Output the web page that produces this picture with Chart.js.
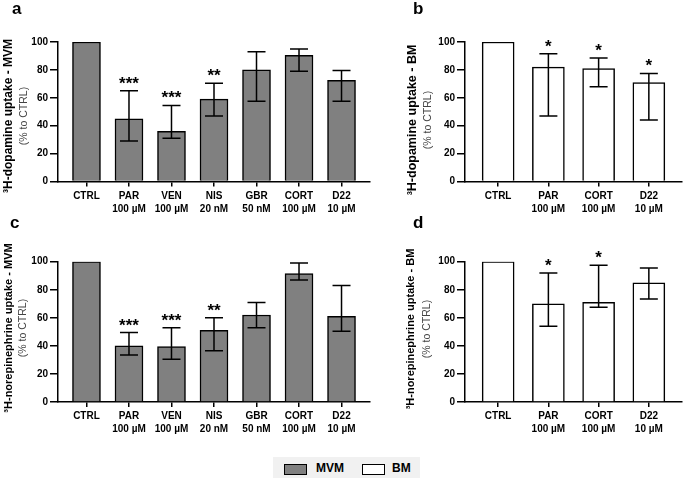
<!DOCTYPE html>
<html>
<head>
<meta charset="utf-8">
<script src="https://cdn.jsdelivr.net/npm/chart.js@4.4.1/dist/chart.umd.min.js"></script>
<style>
  body { margin: 0; background: #fff; }
  #wrap { position: relative; width: 685px; height: 480px; overflow: hidden; font-family: "Liberation Sans", Arial, sans-serif; }
  canvas { position: absolute; }
  .legend { position: absolute; left: 273px; top: 457px; width: 147px; height: 21px; background: #f1f1f1; }
  .sw { position: absolute; top: 7px; width: 21px; height: 9px; border: 1.5px solid #000; }
  .lt { position: absolute; top: 5px; font-weight: bold; font-size: 12px; color: #000; line-height: 13px; }
</style>
</head>
<body>
<div id="wrap">
  <canvas id="chartA" width="372" height="215" style="left:0;top:0"></canvas>
  <canvas id="chartB" width="313" height="215" style="left:372px;top:0"></canvas>
  <canvas id="chartC" width="372" height="225" style="left:0;top:215px"></canvas>
  <canvas id="chartD" width="313" height="225" style="left:372px;top:215px"></canvas>
  <div class="legend">
    <div class="sw" style="left:11px;background:#808080"></div>
    <div class="lt" style="left:43px">MVM</div>
    <div class="sw" style="left:89px;background:#fff"></div>
    <div class="lt" style="left:119px">BM</div>
  </div>
</div>
<script>
// categories
const drugsMVM = ["CTRL", "PAR", "VEN", "NIS", "GBR", "CORT", "D22"];
const dosesMVM = ["", "100 µM", "100 µM", "20 nM", "50 nM", "100 µM", "10 µM"];
const drugsBM = ["CTRL", "PAR", "CORT", "D22"];
const dosesBM = ["", "100 µM", "100 µM", "10 µM"];
const yTicks = [0, 20, 40, 60, 80, 100];

// a: dopamine, MVM
const dopMVM = [100, 45, 36, 59, 80, 90.5, 72.5];
const dopMVMLow = [null, 29, 31, 47, 57.5, 79, 57.5];
const dopMVMHigh = [null, 65, 54.5, 70.5, 93, 95, 79.5];
const dopMVMSig = ["", "***", "***", "**", "", "", ""];

// b: dopamine, BM
const dopBM = [100, 82, 81, 71];
const dopBMLow = [null, 47, 68, 44];
const dopBMHigh = [null, 91.5, 88.5, 77.5];
const dopBMSig = ["", "*", "*", "*"];

// c: norepinephrine, MVM
const neMVM = [100, 40, 39.5, 51, 62, 91.5, 61];
const neMVMLow = [null, 33.5, 30.5, 36.5, 53, 87, 50.5];
const neMVMHigh = [null, 49.5, 53, 60, 71, 99, 83];
const neMVMSig = ["", "***", "***", "**", "", "", ""];

// d: norepinephrine, BM
const neBM = [100, 70, 71, 85];
const neBMLow = [null, 54, 67.5, 73.5];
const neBMHigh = [null, 92, 97.5, 95.5];
const neBMSig = ["", "*", "*", ""];

const FONT = "'Liberation Sans', Arial, sans-serif";


// error bars + significance stars
function errorBarPlugin(p) {
    return {
        id: "errorBars",
        afterDatasetsDraw(chart) {
            const ctx = chart.ctx;
            const x = chart.scales.x;
            const y = chart.scales.y;
            ctx.save();
            ctx.strokeStyle = "#000";
            ctx.lineWidth = 1.5;
            p.low.forEach((lo, i) => {
                if (lo == null) return;
                const cx = x.getPixelForValue(i);
                const yl = y.getPixelForValue(lo);
                const yh = y.getPixelForValue(p.high[i]);
                ctx.beginPath();
                ctx.moveTo(cx, yl);
                ctx.lineTo(cx, yh);
                ctx.moveTo(cx - 9, yh);
                ctx.lineTo(cx + 9, yh);
                ctx.moveTo(cx - 9, yl);
                ctx.lineTo(cx + 9, yl);
                ctx.stroke();
            });
            ctx.fillStyle = "#000";
            ctx.font = "bold 17px " + FONT;
            ctx.textAlign = "center";
            ctx.textBaseline = "alphabetic";
            p.sig.forEach((s, i) => {
                if (!s) return;
                ctx.fillText(s, x.getPixelForValue(i), y.getPixelForValue(p.high[i]) - 2);
            });
            ctx.restore();
        }
    };
}


// panel letter + two-line y title
function panelTextPlugin(p) {
    return {
        id: "panelText",
        afterDraw(chart) {
            const ctx = chart.ctx;
            ctx.save();
            ctx.fillStyle = "#000";
            ctx.font = "bold 17px " + FONT;
            ctx.textAlign = "left";
            ctx.textBaseline = "alphabetic";
            ctx.fillText(p.letter, p.letterX, p.letterY);

            ctx.translate(p.titleX, p.titleY);
            ctx.rotate(-Math.PI / 2);
            ctx.textAlign = "center";
            ctx.textBaseline = "middle";
            ctx.font = "bold " + p.titleSize + "px " + FONT;
            ctx.fillText(p.title, 0, 0);
            ctx.fillStyle = "#444";
            ctx.font = "10.5px " + FONT;
            ctx.fillText("(% to CTRL)", 0, p.subOffset);
            ctx.restore();
        }
    };
}


function makeChart(id, p) {
    const ctx = document.getElementById(id).getContext("2d");
    const n = p.drugs.length;

    return new Chart(ctx, {
        type: "bar",
        data: {
            datasets: [{
                data: p.values.map((v, i) => ({ x: i, y: v })),
                backgroundColor: p.fill,
                borderColor: "#000",
                borderWidth: 1.5,
                barThickness: p.barWidth
            }]
        },
        options: {
            responsive: false,
            animation: false,
            layout: {
                padding: { top: p.top, right: p.right, bottom: 0, left: 0 }
            },
            plugins: {
                legend: { display: false },
                tooltip: { enabled: false }
            },
            scales: {
                x: {
                    type: "linear",
                    offset: false,
                    bounds: "data",
                    min: -p.gap,
                    max: n - 1 + p.gap,
                    afterBuildTicks: s => {
                        s.ticks = p.drugs.map((_, i) => ({ value: i }));
                    },
                    afterFit: s => { s.height = p.xAxisHeight; },
                    ticks: {
                        autoSkip: false,
                        includeBounds: false,
                        maxRotation: 0,
                        padding: 3,
                        color: "#000",
                        font: { family: FONT, size: 10, weight: "bold", lineHeight: 1.3 },
                        callback: v => [p.drugs[v], p.doses[v]]
                    },
                    grid: {
                        offset: false,
                        drawOnChartArea: false,
                        tickLength: 5,
                        color: "#000",
                        lineWidth: 1.5
                    },
                    border: { color: "#000", width: 1.5 }
                },
                y: {
                    min: 0,
                    max: 100,
                    afterBuildTicks: s => {
                        s.ticks = yTicks.map(v => ({ value: v }));
                    },
                    afterFit: s => { s.width = p.left; },
                    ticks: {
                        padding: 2,
                        color: "#000",
                        font: { family: FONT, size: 10, weight: "bold" }
                    },
                    grid: {
                        drawOnChartArea: false,
                        tickLength: 8,
                        color: "#000",
                        lineWidth: 1.5
                    },
                    border: { color: "#000", width: 1.5 }
                }
            }
        },
        plugins: [errorBarPlugin(p), panelTextPlugin(p)]
    });
}


makeChart("chartA", {
    drugs: drugsMVM, doses: dosesMVM, values: dopMVM,
    low: dopMVMLow, high: dopMVMHigh, sig: dopMVMSig,
    fill: "#808080", barWidth: 28, gap: 0.67,
    top: 42, right: 2, left: 58, xAxisHeight: 33.5,
    letter: "a", letterX: 12, letterY: 14,
    title: "³H-dopamine uptake - MVM", titleSize: 12,
    titleX: 9, titleY: 116, subOffset: 15
});

makeChart("chartB", {
    drugs: drugsBM, doses: dosesBM, values: dopBM,
    low: dopBMLow, high: dopBMHigh, sig: dopBMSig,
    fill: "#ffffff", barWidth: 32, gap: 0.66,
    top: 42, right: 3, left: 93, xAxisHeight: 33.5,
    letter: "b", letterX: 41, letterY: 14,
    title: "³H-dopamine uptake - BM", titleSize: 12.5,
    titleX: 41, titleY: 120, subOffset: 15.5
});

makeChart("chartC", {
    drugs: drugsMVM, doses: dosesMVM, values: neMVM,
    low: neMVMLow, high: neMVMHigh, sig: neMVMSig,
    fill: "#808080", barWidth: 28, gap: 0.67,
    top: 46.7, right: 2, left: 58, xAxisHeight: 38,
    letter: "c", letterX: 10, letterY: 13,
    title: "³H-norepinephrine uptake - MVM", titleSize: 11,
    titleX: 9, titleY: 113, subOffset: 14.5
});

makeChart("chartD", {
    drugs: drugsBM, doses: dosesBM, values: neBM,
    low: neBMLow, high: neBMHigh, sig: neBMSig,
    fill: "#ffffff", barWidth: 32, gap: 0.66,
    top: 46.7, right: 3, left: 93, xAxisHeight: 38,
    letter: "d", letterX: 41, letterY: 13,
    title: "³H-norepinephrine uptake - BM", titleSize: 11,
    titleX: 39, titleY: 114, subOffset: 16
});
</script>
</body>
</html>
